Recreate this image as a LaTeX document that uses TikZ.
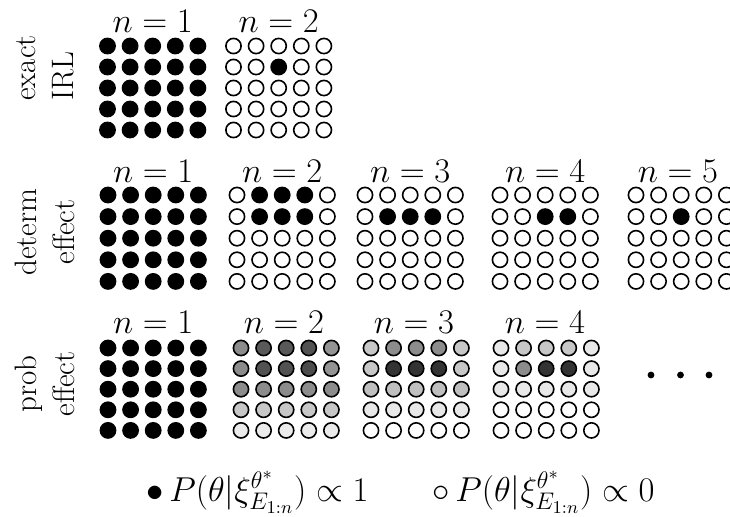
\documentclass[tikz,border=0pt]{standalone}
\usepackage{tikz}
\usepackage{xcolor}
\newcommand{\FN}{\fontsize{16}{19}\selectfont}
\newcommand{\FR}{\fontsize{15.5}{19}\selectfont}
\newcommand{\FY}{\fontsize{18.5}{22}\selectfont}
% grid of 5x5 dots: x of first column, y of first row, row step, rows of grey values
\newcommand{\malla}[4]{%
  \foreach \fila [count=\i from 0] in {#4} {
    \foreach \v [count=\j from 0] in \fila {
      \draw[punto,fill=black!\v] ({#1+\j*22.6},{#2+\i*#3}) circle (3.8pt);
    }
  }%
}

\begin{document}
\begin{tikzpicture}[x=0.5pt,y=-0.5pt]
\tikzstyle{punto}=[draw=black,line width=0.8pt]
\tikzstyle{titulo}=[inner sep=0pt,anchor=base,font=\FN]
\tikzstyle{fila}=[rotate=90,font=\FR,inner sep=0pt]
\tikzstyle{leyenda}=[inner sep=0pt,anchor=base west,font=\FY]

\useasboundingbox (0,0) rectangle (730,516);

% exact IRL
\node[fila,align=left] (exact) at (45,68) {exact\\IRL};
\node[titulo] (e1) at (152.7,32) {$n=1$};
\node[titulo] (e2) at (278.7,32) {$n=2$};
\malla{107.5}{46}{21}{{100,100,100,100,100},{100,100,100,100,100},{100,100,100,100,100},{100,100,100,100,100},{100,100,100,100,100}}
\malla{233.5}{46}{21}{{0,0,0,0,0},{0,0,100,0,0},{0,0,0,0,0},{0,0,0,0,0},{0,0,0,0,0}}

% determ effect
\node[fila,align=center] (determ) at (45,232) {determ\\effect};
\node[titulo] (d1) at (153.2,182) {$n=1$};
\node[titulo] (d2) at (282.2,182) {$n=2$};
\node[titulo] (d3) at (410.2,182) {$n=3$};
\node[titulo] (d4) at (545.2,182) {$n=4$};
\node[titulo] (d5) at (678,182) {$n=5$};
\malla{108}{195}{21.6}{{100,100,100,100,100},{100,100,100,100,100},{100,100,100,100,100},{100,100,100,100,100},{100,100,100,100,100}}
\malla{237}{195}{21.6}{{0,100,100,100,0},{0,100,100,100,0},{0,0,0,0,0},{0,0,0,0,0},{0,0,0,0,0}}
\malla{365}{195}{21.6}{{0,0,0,0,0},{0,100,100,100,0},{0,0,0,0,0},{0,0,0,0,0},{0,0,0,0,0}}
\malla{500}{195}{21.6}{{0,0,0,0,0},{0,0,100,100,0},{0,0,0,0,0},{0,0,0,0,0},{0,0,0,0,0}}
\malla{636}{195}{21.6}{{0,0,0,0,0},{0,0,100,0,0},{0,0,0,0,0},{0,0,0,0,0},{0,0,0,0,0}}

% prob effect
\node[fila,align=center] (prob) at (45,384) {prob\\effect};
\node[titulo] (p1) at (153.2,333) {$n=1$};
\node[titulo] (p2) at (284,333) {$n=2$};
\node[titulo] (p3) at (414,333) {$n=3$};
\node[titulo] (p4) at (545,333) {$n=4$};
\malla{108}{348}{20.6}{{100,100,100,100,100},{100,100,100,100,100},{100,100,100,100,100},{100,100,100,100,100},{100,100,100,100,100}}
\malla{241}{348}{20.6}{{45,65,65,68,42},{45,68,68,70,42},{45,45,45,45,45},{22,22,22,22,22},{8,8,8,8,8}}
\malla{371}{348}{20.6}{{22,45,45,45,22},{22,80,80,80,22},{25,25,25,25,25},{9,9,9,9,9},{0,0,0,0,0}}
\malla{501}{348}{20.6}{{9,22,22,22,9},{9,45,80,80,9},{9,9,9,9,9},{0,0,0,0,0},{0,0,0,0,0}}
\foreach \x in {651,680.5,709}
  \fill (\x,375) circle (1.7pt);

% legend
\node[leyenda] (ley1) at (146,501) {$\bullet\,P(\theta|\xi^{\theta^*}_{E_{1:n}})\propto 1$};
\node[leyenda] (ley2) at (432,501) {$\circ\,P(\theta|\xi^{\theta^*}_{E_{1:n}})\propto 0$};
\end{tikzpicture}
\end{document}
